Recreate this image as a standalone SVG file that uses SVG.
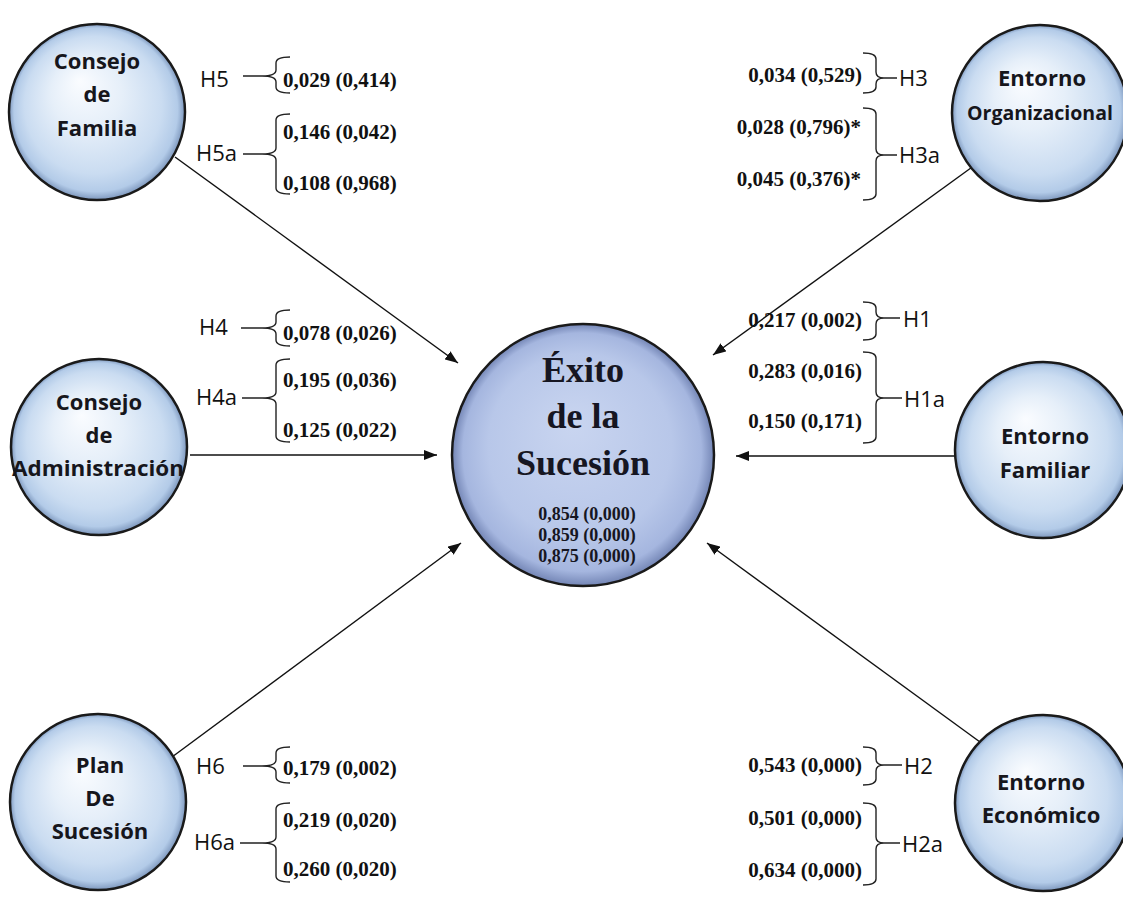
<svg xmlns="http://www.w3.org/2000/svg" width="1123" height="897" viewBox="0 0 1123 897">
  <defs>
    <radialGradient id="gSmall" cx="50%" cy="50%" r="50%" fx="40%" fy="32%">
      <stop offset="0%" stop-color="#fafcff"/>
      <stop offset="40%" stop-color="#e6eff9"/>
      <stop offset="78%" stop-color="#cadcf1"/>
      <stop offset="93%" stop-color="#b3cbe8"/>
      <stop offset="100%" stop-color="#7d97bd"/>
    </radialGradient>
    <radialGradient id="gBig" cx="50%" cy="50%" r="50%" fx="46%" fy="38%">
      <stop offset="0%" stop-color="#c9d5f0"/>
      <stop offset="70%" stop-color="#b8c7e9"/>
      <stop offset="91%" stop-color="#a5b6df"/>
      <stop offset="100%" stop-color="#7385b5"/>
    </radialGradient>
    <marker id="arrow" markerUnits="userSpaceOnUse" markerWidth="14" markerHeight="10" refX="13" refY="5" orient="auto">
      <path d="M0,0 L13,5 L0,10 z" fill="#111"/>
    </marker>
    <style>
      .node { stroke: #1a1a1a; stroke-width: 2.5; }
      .small { fill: url(#gSmall); }
      .big { fill: url(#gBig); }
      .lbl { font-family: "Open Sans", "Liberation Sans", sans-serif; font-weight: bold; font-size: 22px; fill: #16161c; text-anchor: middle; }
      .lblS { font-size: 19.5px; }
      .title { font-family: "Liberation Serif", serif; font-weight: bold; font-size: 36px; fill: #161622; text-anchor: middle; }
      .cval { font-family: "Liberation Serif", serif; font-weight: bold; font-size: 18px; fill: #161622; text-anchor: middle; }
      .hyp { font-family: "Open Sans", "Liberation Sans", sans-serif; font-size: 22px; fill: #111; }
      .val { font-family: "Liberation Serif", serif; font-weight: bold; font-size: 21px; fill: #111; }
      .valR { text-anchor: end; }
      .brace { fill: none; stroke: #222; stroke-width: 1.4; }
      .edge { fill: none; stroke: #111; stroke-width: 1.4; marker-end: url(#arrow); }
    </style>
  </defs>

  <rect width="1123" height="897" fill="#ffffff"/>

  <!-- connectors -->
  <g id="connectors">
    <line class="edge" x1="175" y1="157" x2="458" y2="363"/>
    <line class="edge" x1="190" y1="455" x2="437" y2="455"/>
    <line class="edge" x1="172" y1="757" x2="461" y2="543"/>
    <line class="edge" x1="975" y1="165" x2="713" y2="355"/>
    <line class="edge" x1="958" y1="456" x2="736" y2="456"/>
    <line class="edge" x1="980" y1="742" x2="707" y2="543"/>
  </g>

  <!-- hypothesis brackets (left side) -->
  <g id="brackets-left">
    <path class="brace" d="M243,76 L262,76 M290,57 Q276,57 276,63 L276,70 Q276,76 262,76 Q276,76 276,82 L276,87 Q276,93 290,93"/>
    <path class="brace" d="M243,154 L262,154 M290,114 Q276,114 276,120 L276,148 Q276,154 262,154 Q276,154 276,160 L276,188 Q276,194 290,194"/>
    <path class="brace" d="M241,328 L262,328 M290,310 Q276,310 276,316 L276,322 Q276,328 262,328 Q276,328 276,334 L276,340 Q276,346 290,346"/>
    <path class="brace" d="M242,398 L262,398 M290,359 Q276,359 276,365 L276,392 Q276,398 262,398 Q276,398 276,404 L276,436 Q276,442 290,442"/>
    <path class="brace" d="M243,766 L262,766 M290,747 Q276,747 276,753 L276,760 Q276,766 262,766 Q276,766 276,772 L276,777 Q276,783 290,783"/>
    <path class="brace" d="M240,843 L262,843 M290,803 Q276,803 276,809 L276,837 Q276,843 262,843 Q276,843 276,849 L276,876 Q276,882 290,882"/>
  </g>

  <!-- hypothesis brackets (right side) -->
  <g id="brackets-right">
    <path class="brace" d="M863,53 Q876,53 876,59 L876,72 Q876,78 884,78 Q876,78 876,84 L876,87 Q876,93 863,93 M884,78 L897,78"/>
    <path class="brace" d="M863,108 Q876,108 876,114 L876,149 Q876,155 884,155 Q876,155 876,161 L876,194 Q876,200 863,200 M884,155 L897,155"/>
    <path class="brace" d="M863,302 Q876,302 876,308 L876,312 Q876,318 884,318 Q876,318 876,324 L876,334 Q876,340 863,340 M884,318 L900,318"/>
    <path class="brace" d="M863,352 Q876,352 876,358 L876,392 Q876,398 884,398 Q876,398 876,404 L876,437 Q876,443 863,443 M884,398 L902,398"/>
    <path class="brace" d="M863,747 Q876,747 876,753 L876,759 Q876,765 884,765 Q876,765 876,771 L876,779 Q876,785 863,785 M884,765 L902,765"/>
    <path class="brace" d="M863,803 Q876,803 876,809 L876,837 Q876,843 884,843 Q876,843 876,849 L876,879 Q876,885 863,885 M884,843 L900,843"/>
  </g>

  <!-- hypothesis names -->
  <g id="hypotheses">
    <text class="hyp" x="200" y="87">H5</text>
    <text class="hyp" x="196" y="161">H5a</text>
    <text class="hyp" x="199" y="335">H4</text>
    <text class="hyp" x="196" y="405">H4a</text>
    <text class="hyp" x="196" y="774">H6</text>
    <text class="hyp" x="194" y="850">H6a</text>
    <text class="hyp" x="899" y="86">H3</text>
    <text class="hyp" x="899" y="163">H3a</text>
    <text class="hyp" x="903" y="327">H1</text>
    <text class="hyp" x="904" y="407">H1a</text>
    <text class="hyp" x="904" y="774">H2</text>
    <text class="hyp" x="902" y="852">H2a</text>
  </g>

  <!-- path coefficients (p-values) -->
  <g id="coefficients">
    <text class="val" x="283" y="87">0,029 (0,414)</text>
    <text class="val" x="283" y="139">0,146 (0,042)</text>
    <text class="val" x="283" y="190">0,108 (0,968)</text>
    <text class="val" x="283" y="340">0,078 (0,026)</text>
    <text class="val" x="283" y="387">0,195 (0,036)</text>
    <text class="val" x="283" y="437">0,125 (0,022)</text>
    <text class="val" x="283" y="775">0,179 (0,002)</text>
    <text class="val" x="283" y="827">0,219 (0,020)</text>
    <text class="val" x="283" y="876">0,260 (0,020)</text>
    <text class="val valR" x="862" y="82">0,034 (0,529)</text>
    <text class="val valR" x="861" y="134">0,028 (0,796)*</text>
    <text class="val valR" x="861" y="186">0,045 (0,376)*</text>
    <text class="val valR" x="862" y="327">0,217 (0,002)</text>
    <text class="val valR" x="862" y="378">0,283 (0,016)</text>
    <text class="val valR" x="862" y="428">0,150 (0,171)</text>
    <text class="val valR" x="862" y="772">0,543 (0,000)</text>
    <text class="val valR" x="862" y="825">0,501 (0,000)</text>
    <text class="val valR" x="862" y="877">0,634 (0,000)</text>
  </g>

  <!-- constructs -->
  <g id="consejo-familia">
    <circle class="node small" cx="97" cy="112" r="88"/>
    <text class="lbl" x="97" y="69">Consejo</text>
    <text class="lbl" x="97" y="102">de</text>
    <text class="lbl" x="97" y="136">Familia</text>
  </g>

  <g id="consejo-administracion">
    <circle class="node small" cx="99" cy="447" r="88"/>
    <text class="lbl" x="99" y="410">Consejo</text>
    <text class="lbl" x="99" y="443">de</text>
    <text class="lbl" x="98" y="476" textLength="172" lengthAdjust="spacingAndGlyphs">Administración</text>
  </g>

  <g id="plan-sucesion">
    <circle class="node small" cx="98" cy="802" r="88"/>
    <text class="lbl" x="100" y="773">Plan</text>
    <text class="lbl" x="100" y="806">De</text>
    <text class="lbl" x="100" y="839">Sucesión</text>
  </g>

  <g id="entorno-organizacional">
    <circle class="node small" cx="1040" cy="113" r="88"/>
    <text class="lbl" x="1042" y="86">Entorno</text>
    <text class="lbl lblS" x="1040" y="120">Organizacional</text>
  </g>

  <g id="entorno-familiar">
    <circle class="node small" cx="1043" cy="450" r="88"/>
    <text class="lbl" x="1045" y="444">Entorno</text>
    <text class="lbl" x="1045" y="478">Familiar</text>
  </g>

  <g id="entorno-economico">
    <circle class="node small" cx="1043" cy="803" r="88"/>
    <text class="lbl" x="1041" y="790">Entorno</text>
    <text class="lbl" x="1041" y="823">Económico</text>
  </g>

  <g id="exito-sucesion">
    <circle class="node big" cx="583" cy="455" r="131"/>
    <text class="title" x="583" y="382">Éxito</text>
    <text class="title" x="583" y="428">de la</text>
    <text class="title" x="583" y="475">Sucesión</text>
    <text class="cval" x="587" y="520">0,854 (0,000)</text>
    <text class="cval" x="587" y="541">0,859 (0,000)</text>
    <text class="cval" x="587" y="562">0,875 (0,000)</text>
  </g>
</svg>
